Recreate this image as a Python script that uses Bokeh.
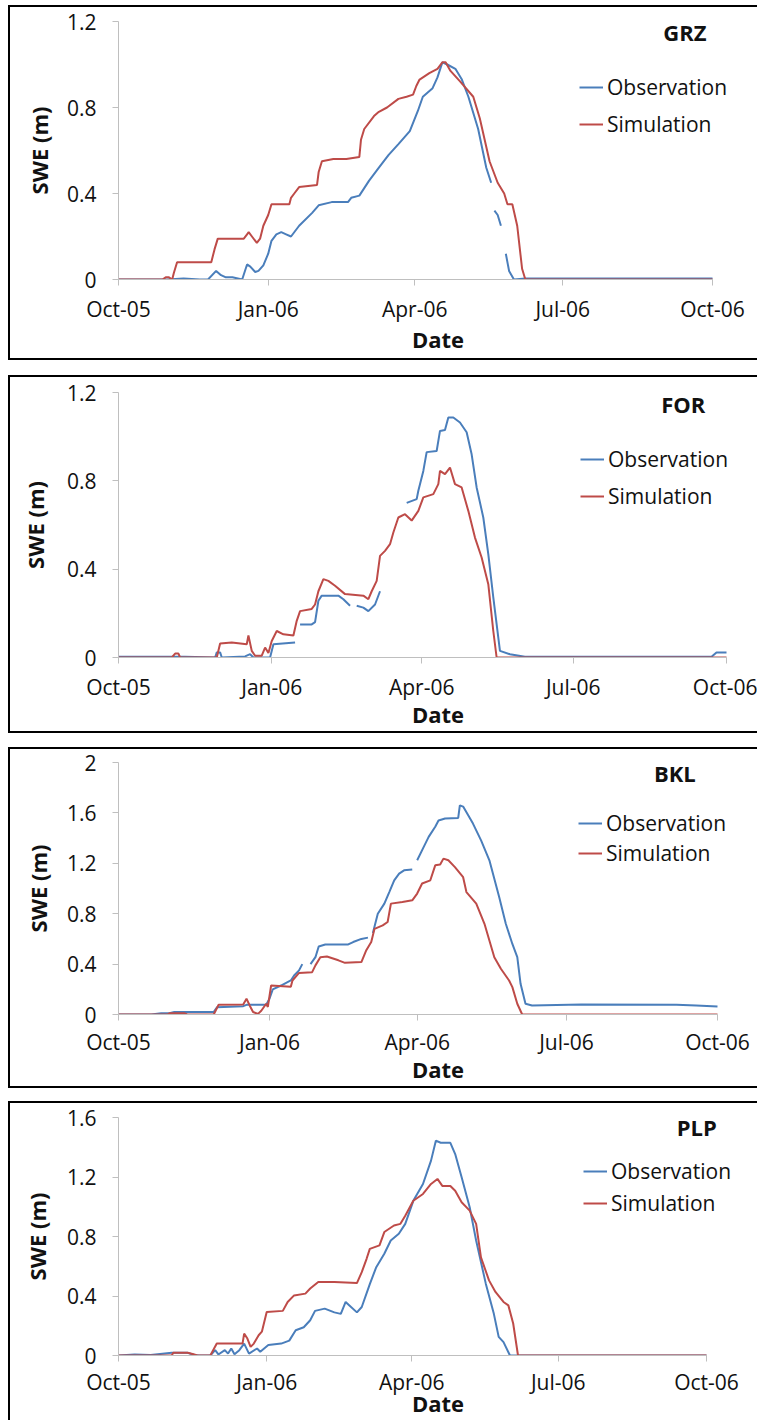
import numpy as np
import pandas as pd
from bokeh.plotting import figure
from bokeh.models import Range1d, FixedTicker, Legend, LegendItem, Label, ColumnDataSource
from bokeh.layouts import column
from bokeh.embed import file_html
from bokeh.resources import INLINE

nan = float("nan")

# ---------------- data (days since 2005-10-01, SWE in m) ----------------
START = "2005-10-01"
END = "2006-10-01"
x_tick_dates = ["2005-10-01", "2006-01-01", "2006-04-01", "2006-07-01", "2006-10-01"]
x_tick_labels = ["Oct-05", "Jan-06", "Apr-06", "Jul-06", "Oct-06"]
series_names = ["Observation", "Simulation"]

sites = ["GRZ", "FOR", "BKL", "PLP"]
y_ticks = {
    "GRZ": [0, 0.4, 0.8, 1.2],
    "FOR": [0, 0.4, 0.8, 1.2],
    "BKL": [0, 0.4, 0.8, 1.2, 1.6, 2.0],
    "PLP": [0, 0.4, 0.8, 1.2, 1.6],
}

grz_obs_d = [0, 30, 40, 50, 55, 60, 63, 66, 70, 76,
             79, 81, 84, 86, 89, 92, 94, 97, 100, 103,
             106, 111, 119, 123, 131, 141, 143, 148, 154, 160,
             166, 172, 179, 184, 187, 193, 196, 199, 202, 207,
             211, 215, 221, 226, 229, 230, 231, 233, 235, 236,
             238, 240, 243, 250, 365]
grz_obs_v = [0, 0, 0.005, 0, 0, 0.04, 0.02, 0.01, 0.01, 0,
             0.07, 0.06, 0.035, 0.04, 0.066, 0.12, 0.18, 0.21, 0.22, 0.21,
             0.20, 0.25, 0.31, 0.345, 0.36, 0.36, 0.38, 0.39, 0.46, 0.52,
             0.58, 0.63, 0.69, 0.785, 0.85, 0.89, 0.94, 1.01, 1.00, 0.98,
             0.93, 0.85, 0.70, 0.52, 0.45, nan, 0.32, 0.30, 0.25, nan,
             0.12, 0.04, 0, 0.005, 0.005]
grz_sim_d = [0, 27, 29, 31, 33, 34, 36, 57, 59, 61,
             77, 79, 80, 82, 85, 87, 89, 92, 94, 105,
             106, 108, 111, 122, 123, 125, 132, 140, 148, 149,
             151, 157, 160, 165, 172, 177, 181, 183, 185, 191,
             196, 199, 201, 204, 210, 218, 222, 228, 233, 237,
             239, 242, 245, 248, 250, 365]
grz_sim_v = [0, 0, 0.01, 0.01, 0.0, 0.03, 0.08, 0.08, 0.14, 0.19,
             0.19, 0.21, 0.22, 0.20, 0.17, 0.19, 0.25, 0.30, 0.35, 0.35,
             0.38, 0.40, 0.43, 0.44, 0.50, 0.55, 0.56, 0.56, 0.57, 0.65,
             0.70, 0.76, 0.78, 0.80, 0.84, 0.85, 0.86, 0.90, 0.93, 0.96,
             0.98, 1.01, 1.01, 0.97, 0.92, 0.85, 0.75, 0.55, 0.45, 0.40,
             0.35, 0.35, 0.25, 0.05, 0, 0]

for_obs_d = [0, 40, 58, 59, 61, 62, 76, 79, 81, 91,
             93, 106, 107, 109, 116, 118, 120, 122, 132, 135,
             139, 141, 143, 147, 150, 154, 157, 159, 173, 179,
             180, 183, 185, 191, 193, 196, 198, 201, 205, 209,
             212, 215, 219, 222, 225, 229, 235, 244, 356, 359,
             365]
for_obs_v = [0.003, 0.003, 0, 0.023, 0.023, 0, 0.005, 0.015, 0, 0,
             0.06, 0.068, nan, 0.15, 0.15, 0.16, 0.257, 0.28, 0.28, 0.264,
             0.234, nan, 0.234, 0.226, 0.21, 0.24, 0.30, nan, 0.70, 0.717,
             0.755, 0.845, 0.93, 0.935, 1.026, 1.03, 1.087, 1.087, 1.064, 1.02,
             0.92, 0.77, 0.634, 0.468, 0.272, 0.03, 0.015, 0.003, 0.003, 0.023,
             0.023]
for_sim_d = [0, 32, 34, 36, 37, 59, 61, 68, 77, 78,
             80, 82, 86, 88, 90, 92, 95, 99, 105, 107,
             109, 116, 118, 120, 123, 126, 130, 136, 147, 150,
             152, 155, 157, 160, 163, 165, 168, 172, 176, 180,
             183, 189, 192, 193, 196, 199, 202, 206, 210, 214,
             218, 222, 225, 227, 365]
for_sim_v = [0, 0, 0.018, 0.018, 0, 0, 0.063, 0.068, 0.06, 0.10,
             0.03, 0.008, 0.008, 0.045, 0.02, 0.075, 0.12, 0.105, 0.10, 0.166,
             0.21, 0.22, 0.24, 0.30, 0.355, 0.347, 0.325, 0.287, 0.28, 0.264,
             0.30, 0.347, 0.46, 0.483, 0.513, 0.566, 0.634, 0.649, 0.62, 0.664,
             0.725, 0.74, 0.785, 0.845, 0.83, 0.86, 0.785, 0.77, 0.664, 0.543,
             0.453, 0.332, 0.12, 0, 0]

bkl_obs_d = [0, 20, 26, 31, 34, 58, 60, 76, 78, 90,
             92, 94, 99, 105, 107, 110, 112, 114, 117, 120,
             122, 126, 140, 143, 148, 152, 153, 155, 158, 162,
             165, 168, 171, 174, 179, 180, 182, 186, 189, 193,
             195, 199, 207, 208, 210, 216, 221, 226, 232, 236,
             240, 243, 245, 248, 252, 282, 340, 352, 365]
bkl_obs_v = [0, 0, 0.01, 0.01, 0.02, 0.02, 0.058, 0.066, 0.077, 0.077,
             0.125, 0.20, 0.23, 0.27, 0.31, 0.35, 0.40, nan, 0.40, 0.455,
             0.54, 0.556, 0.556, 0.575, 0.60, 0.61, nan, 0.646, 0.80, 0.88,
             0.972, 1.065, 1.118, 1.144, 1.15, nan, 1.224, 1.33, 1.41, 1.49,
             1.54, 1.555, 1.56, 1.66, 1.65, 1.515, 1.38, 1.224, 0.93, 0.72,
             0.56, 0.455, 0.244, 0.085, 0.072, 0.08, 0.077, 0.072, 0.064]
bkl_sim_d = [0, 30, 31, 40, 42, 58, 61, 76, 78, 80,
             82, 85, 87, 90, 91, 93, 105, 106, 110, 118,
             120, 123, 127, 134, 138, 148, 151, 154, 156, 161,
             164, 166, 173, 179, 182, 185, 190, 193, 196, 198,
             201, 205, 210, 212, 218, 223, 229, 233, 238, 240,
             243, 246, 365]
bkl_sim_v = [0, 0, 0.01, 0.01, 0, 0, 0.077, 0.08, 0.125, 0.07,
             0.02, 0.005, 0.03, 0.085, 0.06, 0.23, 0.22, 0.27, 0.33, 0.336,
             0.39, 0.455, 0.46, 0.43, 0.41, 0.416, 0.51, 0.575, 0.68, 0.707,
             0.734, 0.88, 0.893, 0.906, 0.96, 1.04, 1.065, 1.184, 1.19, 1.237,
             1.224, 1.17, 1.09, 0.972, 0.88, 0.72, 0.455, 0.363, 0.27, 0.217,
             0.085, 0, 0]

plp_obs_d = [0, 10, 20, 33, 43, 47, 50, 57, 60, 62,
             66, 68, 70, 72, 75, 78, 81, 86, 88, 93,
             101, 106, 110, 115, 119, 122, 128, 134, 138, 141,
             143, 148, 151, 156, 160, 165, 169, 174, 178, 183,
             189, 194, 197, 200, 206, 209, 213, 218, 222, 228,
             233, 236, 239, 243, 365]
plp_obs_v = [0, 0.007, 0.003, 0.018, 0.018, 0.003, 0, 0, 0.036, 0.007,
             0.036, 0.013, 0.047, 0.009, 0.036, 0.08, 0.013, 0.047, 0.025, 0.07,
             0.08, 0.10, 0.17, 0.19, 0.237, 0.30, 0.315, 0.29, 0.28, 0.36,
             0.34, 0.29, 0.326, 0.48, 0.594, 0.684, 0.773, 0.818, 0.885, 1.04,
             1.153, 1.31, 1.444, 1.43, 1.43, 1.354, 1.198, 0.997, 0.773, 0.483,
             0.28, 0.125, 0.09, 0, 0]
plp_sim_d = [0, 33, 34, 43, 46, 49, 57, 61, 77, 78,
             80, 82, 84, 87, 89, 92, 102, 105, 109, 116,
             119, 124, 134, 148, 151, 154, 156, 162, 165, 171,
             175, 178, 183, 189, 194, 198, 201, 206, 209, 213,
             218, 222, 225, 230, 234, 239, 242, 245, 248, 365]
plp_sim_v = [0, 0, 0.018, 0.018, 0.01, 0, 0, 0.08, 0.08, 0.147,
             0.114, 0.058, 0.08, 0.136, 0.16, 0.293, 0.30, 0.36, 0.404, 0.416,
             0.45, 0.494, 0.494, 0.487, 0.56, 0.65, 0.717, 0.74, 0.83, 0.874,
             0.885, 0.94, 1.04, 1.086, 1.153, 1.187, 1.14, 1.14, 1.108, 1.03,
             0.974, 0.885, 0.66, 0.505, 0.427, 0.36, 0.337, 0.215, 0, 0]

data = {
    "GRZ": (grz_obs_d, grz_obs_v, grz_sim_d, grz_sim_v),
    "FOR": (for_obs_d, for_obs_v, for_sim_d, for_sim_v),
    "BKL": (bkl_obs_d, bkl_obs_v, bkl_sim_d, bkl_sim_v),
    "PLP": (plp_obs_d, plp_obs_v, plp_sim_d, plp_sim_v),
}

# ---------------- styling / layout ----------------
OBS_COLOR = "#4A7EBB"
SIM_COLOR = "#BE4B48"
FONT = "Open Sans"
AXIS_GRAY = "#BFBFBF"
PAGE_W = 757
BOX_LEFT = 8      # x of the panel box's left line on the page
BORDER = 2
FRAME_LEFT = 118  # frames of a column are aligned, so all panels share this left edge

# per panel: canvas height, top gap, x of Oct-06, min borders top/bottom,
# x tick-label / axis-label standoffs, y axis-label standoff, site label pos (day, y),
# legend location (px from frame bottom-left), legend spacing, bottom border line
layout = {
    "GRZ": dict(h=355, mt=5, fr=712, mbt=16, mbb=81, xls=9, xas=-2, yas=10,
                lab=(348, 1.149), leg=(461, 141), sp=9, bottom=True),
    "FOR": dict(h=358, mt=15, fr=726, mbt=17, mbb=76, xls=9, xas=-5, yas=14,
                lab=(339, 1.150), leg=(462, 147), sp=9, bottom=True),
    "BKL": dict(h=341, mt=14, fr=717, mbt=15, mbb=74, xls=7, xas=-5, yas=11,
                lab=(339, 1.913), leg=(460, 147), sp=2, bottom=True),
    "PLP": dict(h=319, mt=13, fr=706, mbt=16, mbb=65, xls=6, xas=-11, yas=12,
                lab=(359, 1.533), leg=(465, 138), sp=4, bottom=False),
}

t0 = pd.Timestamp(START)
t1 = pd.Timestamp(END)


def to_dt(days):
    return t0 + pd.to_timedelta(np.asarray(days, dtype=float), unit="D")


def ms(ts):
    return pd.Timestamp(ts).value / 1e6


def box_styles(bottom):
    # black box lines drawn as CSS backgrounds behind the (transparent) canvas border
    off = BOX_LEFT
    n = 3 if bottom else 2
    sizes = [f"{BORDER}px 100%", f"calc(100% - {off}px) {BORDER}px"]
    pos = [f"{off}px 0px", f"{off}px 0px"]
    if bottom:
        sizes.append(f"calc(100% - {off}px) {BORDER}px")
        pos.append(f"{off}px 100%")
    return {
        "background-image": ", ".join(["linear-gradient(#000000, #000000)"] * n),
        "background-size": ", ".join(sizes),
        "background-position": ", ".join(pos),
        "background-repeat": "no-repeat",
    }


def make_panel(site):
    obs_d, obs_v, sim_d, sim_v = data[site]
    assert len(obs_d) == len(obs_v) and len(sim_d) == len(sim_v)
    L = layout[site]
    ticks = y_ticks[site]
    # frame runs to the page's right edge; the axis itself stops at Oct-06
    span = ms(t1) - ms(t0)
    x_end = ms(t0) + span * (PAGE_W - FRAME_LEFT) / (L["fr"] - FRAME_LEFT)
    p = figure(width=PAGE_W, height=L["h"], x_axis_type="datetime",
               x_range=Range1d(ms(t0), x_end), y_range=Range1d(0, ticks[-1]),
               output_backend="svg", toolbar_location=None,
               min_border_left=FRAME_LEFT, min_border_right=0,
               min_border_top=L["mbt"], min_border_bottom=L["mbb"])
    p.grid.visible = False
    p.outline_line_color = None
    p.background_fill_color = "white"
    p.border_fill_alpha = 0

    obs_src = ColumnDataSource(dict(x=to_dt(obs_d), y=obs_v))
    sim_src = ColumnDataSource(dict(x=to_dt(sim_d), y=sim_v))
    r_obs = p.line("x", "y", source=obs_src, line_color=OBS_COLOR, line_width=2)
    r_sim = p.line("x", "y", source=sim_src, line_color=SIM_COLOR, line_width=2)

    # axes
    xa = p.xaxis[0]
    ya = p.yaxis[0]
    xa.ticker = FixedTicker(ticks=[ms(t) for t in x_tick_dates])
    xa.major_label_overrides = {ms(t): lab for t, lab in zip(x_tick_dates, x_tick_labels)}
    xa.bounds = (ms(t0), ms(t1))
    ya.ticker = FixedTicker(ticks=ticks)
    ya.major_label_overrides = {float(t): f"{t:g}" for t in ticks}
    for ax in (xa, ya):
        ax.axis_line_color = AXIS_GRAY
        ax.axis_line_width = 1
        ax.major_tick_line_color = AXIS_GRAY
        ax.minor_tick_line_color = None
        ax.major_tick_out = 6
        ax.major_tick_in = 0
        ax.major_label_text_font = FONT
        ax.major_label_text_font_size = "21px"
        ax.major_label_text_color = "#111111"
        ax.major_label_text_line_height = 1.0
        ax.axis_label_text_font = FONT
        ax.axis_label_text_font_size = "22px"
        ax.axis_label_text_font_style = "bold"
        ax.axis_label_text_color = "#111111"
        ax.axis_label_text_line_height = 1.0
    xa.axis_label = "Date"
    ya.axis_label = "SWE (m)"
    xa.major_label_standoff = L["xls"]
    xa.axis_label_standoff = L["xas"]
    ya.major_label_standoff = 16
    ya.axis_label_standoff = L["yas"]

    # site label
    p.add_layout(Label(x=ms(t0) + L["lab"][0] * 86400000.0, y=L["lab"][1], text=site,
                       text_font=FONT, text_font_size="22px", text_font_style="bold",
                       text_align="center", text_baseline="middle", text_color="#111111"))

    # legend
    legend = Legend(items=[LegendItem(label=series_names[0], renderers=[r_obs]),
                           LegendItem(label=series_names[1], renderers=[r_sim])],
                    location=L["leg"], orientation="vertical")
    legend.border_line_color = None
    legend.background_fill_alpha = 0
    legend.padding = 0
    legend.margin = 0
    legend.spacing = L["sp"]
    legend.glyph_width = 24
    legend.glyph_height = 20
    legend.label_height = 20
    legend.label_standoff = 4
    legend.label_text_font = FONT
    legend.label_text_font_size = "21px"
    legend.label_text_color = "#111111"
    p.add_layout(legend)

    p.styles = box_styles(L["bottom"])
    p.margin = (L["mt"], 0, 0, 0)
    return p


panels = [make_panel(s) for s in sites]
page = column(*panels)

open("out.html", "w").write(file_html(page, INLINE))
